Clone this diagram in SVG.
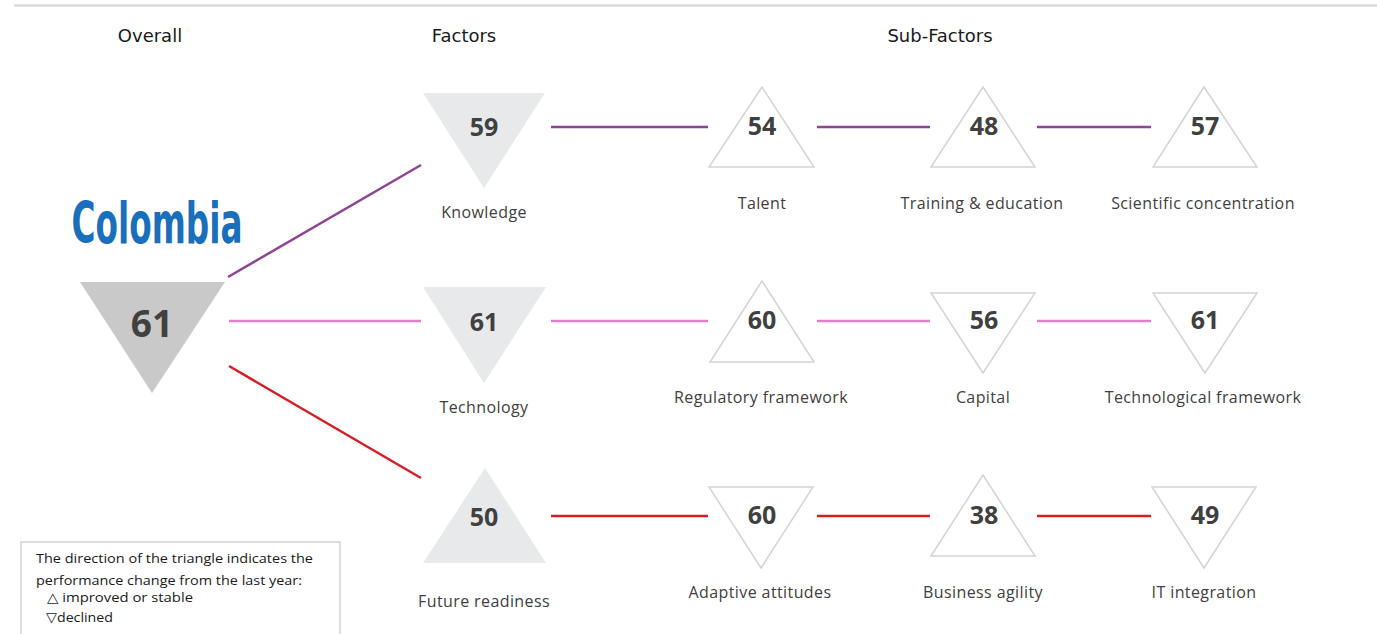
<svg xmlns="http://www.w3.org/2000/svg" width="1377" height="634" viewBox="0 0 1377 634">
<style>
.hdr{font-family:"DejaVu Sans","Liberation Sans",sans-serif;font-size:18px;fill:#1a1a1a;text-anchor:middle}
.num{font-family:"Open Sans","Liberation Sans",sans-serif;font-weight:bold;font-size:25px;fill:#404040;text-anchor:middle}
.big{font-size:37px}
.lbl{font-family:"Open Sans","Liberation Sans",sans-serif;font-size:16px;letter-spacing:0.4px;fill:#404040;text-anchor:middle}
.fac{fill:#e8e9eb}
.sub{fill:#ffffff;stroke:#d4d4d4;stroke-width:1.5}
.lg{font-family:"Open Sans","DejaVu Sans",sans-serif;font-size:13.5px;fill:#1a1a1a}
.c1{stroke:#8e4494;stroke-width:2.5;fill:none}
.c2{stroke:#e47fcc;stroke-width:2.5;fill:none}
.c3{stroke:#d41f26;stroke-width:2.5;fill:none}
</style>
<rect x="0" y="0" width="1377" height="634" fill="#ffffff"/>
<line x1="14" y1="5.5" x2="1377" y2="5.5" stroke="#d9d9d9" stroke-width="2.5"/>
<text class="hdr" x="150" y="42">Overall</text>
<text class="hdr" x="464" y="42">Factors</text>
<text class="hdr" x="940" y="42">Sub-Factors</text>

<g id="connectors">
<line class="c1" x1="228" y1="277" x2="421" y2="165"/>
<line class="c2" x1="229" y1="321" x2="421" y2="321"/>
<line class="c3" x1="229" y1="366" x2="421" y2="478"/>
<line class="c1" x1="551" y1="127" x2="708" y2="127"/>
<line class="c1" x1="817" y1="127" x2="930" y2="127"/>
<line class="c1" x1="1037" y1="127" x2="1151" y2="127"/>
<line class="c2" x1="551" y1="321" x2="708" y2="321"/>
<line class="c2" x1="817" y1="321" x2="930" y2="321"/>
<line class="c2" x1="1037" y1="321" x2="1151" y2="321"/>
<line class="c3" x1="551" y1="516" x2="708" y2="516"/>
<line class="c3" x1="817" y1="516" x2="930" y2="516"/>
<line class="c3" x1="1037" y1="516" x2="1151" y2="516"/>
</g>

<g id="overall">
<text x="157" y="243" font-family="'Liberation Sans Narrow','DejaVu Sans Condensed','Liberation Sans',sans-serif" font-weight="bold" font-size="57" fill="#1a6fba" text-anchor="middle" textLength="171" lengthAdjust="spacingAndGlyphs">Colombia</text>
<polygon points="80,282 225,282 152,393" fill="#c9c9c9"/>
<text class="num big" x="152" y="337">61</text>
</g>

<g id="knowledge">
<polygon class="fac" points="423,93 545,93 484,188"/>
<text class="num" x="484" y="136">59</text>
<text class="lbl" x="484" y="218">Knowledge</text>
</g>
<g id="technology">
<polygon class="fac" points="423,287 546,287 484,383"/>
<text class="num" x="484" y="331">61</text>
<text class="lbl" x="484" y="413">Technology</text>
</g>
<g id="future-readiness">
<polygon class="fac" points="485,468 423,563 546,563"/>
<text class="num" x="484" y="526">50</text>
<text class="lbl" x="484" y="607">Future readiness</text>
</g>

<g id="talent">
<polygon class="sub" points="762,87 709,167 814,167"/>
<text class="num" x="762" y="135">54</text>
<text class="lbl" x="762" y="209">Talent</text>
</g>
<g id="training-education">
<polygon class="sub" points="983,87 931,167 1035,167"/>
<text class="num" x="984" y="135">48</text>
<text class="lbl" x="982" y="209">Training &amp; education</text>
</g>
<g id="scientific-concentration">
<polygon class="sub" points="1204,87 1153,167 1257,167"/>
<text class="num" x="1205" y="135">57</text>
<text class="lbl" x="1203" y="209">Scientific concentration</text>
</g>

<g id="regulatory-framework">
<polygon class="sub" points="762,281 710,362 814,362"/>
<text class="num" x="762" y="329">60</text>
<text class="lbl" x="761" y="403">Regulatory framework</text>
</g>
<g id="capital">
<polygon class="sub" points="931,293 1035,293 983,373"/>
<text class="num" x="984" y="329">56</text>
<text class="lbl" x="983" y="403">Capital</text>
</g>
<g id="technological-framework">
<polygon class="sub" points="1153,293 1257,293 1205,373"/>
<text class="num" x="1205" y="329">61</text>
<text class="lbl" x="1203" y="403">Technological framework</text>
</g>

<g id="adaptive-attitudes">
<polygon class="sub" points="709,487 813,487 761,568"/>
<text class="num" x="762" y="524">60</text>
<text class="lbl" x="760" y="598">Adaptive attitudes</text>
</g>
<g id="business-agility">
<polygon class="sub" points="983,475 931,556 1035,556"/>
<text class="num" x="984" y="524">38</text>
<text class="lbl" x="983" y="598">Business agility</text>
</g>
<g id="it-integration">
<polygon class="sub" points="1152,487 1256,487 1204,568"/>
<text class="num" x="1205" y="524">49</text>
<text class="lbl" x="1204" y="598">IT integration</text>
</g>

<g id="legend">
<rect x="21" y="542" width="319" height="100" fill="#ffffff" stroke="#d4d4d4" stroke-width="1.5"/>
<text class="lg" x="36" y="563" textLength="277" lengthAdjust="spacingAndGlyphs">The direction of the triangle indicates the</text>
<text class="lg" x="36" y="585" textLength="266" lengthAdjust="spacingAndGlyphs">performance change from the last year:</text>
<text class="lg" x="47" y="602" textLength="146" lengthAdjust="spacingAndGlyphs">△ improved or stable</text>
<text class="lg" x="46" y="622" textLength="67" lengthAdjust="spacingAndGlyphs">▽declined</text>
</g>
</svg>
